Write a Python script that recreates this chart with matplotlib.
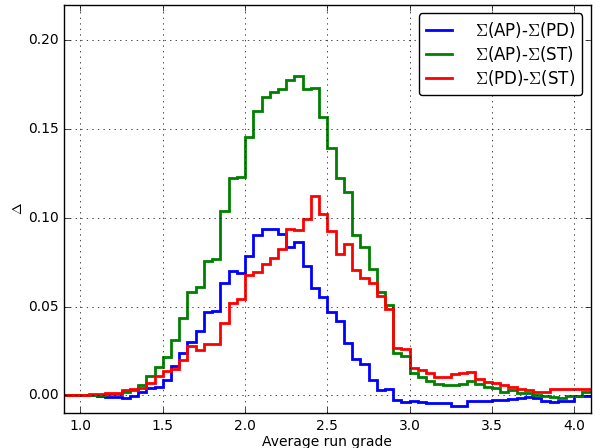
import numpy as np
import matplotlib
matplotlib.use('Agg')
import matplotlib.pyplot as plt

plt.style.use('classic')

# bin edges: 0.90 .. 4.10 in steps of 0.05
bin_edges = np.round(np.arange(0.90, 4.1001, 0.05), 2)

ap_pd = [0.0, 0.0, 0.0, 0.0, -0.0003, -0.0007, -0.0008, -0.0016, -0.0005, 0.0020,
         0.0042, 0.0047, 0.0085, 0.0165, 0.0240, 0.0303, 0.0361, 0.0470, 0.0475, 0.0631,
         0.0701, 0.0688, 0.0783, 0.0904, 0.0940, 0.0936, 0.0908, 0.0838, 0.0866, 0.0729,
         0.0607, 0.0552, 0.0472, 0.0420, 0.0297, 0.0203, 0.0175, 0.0085, 0.0030, 0.0034,
         -0.0026, -0.0036, -0.0032, -0.0036, -0.0045, -0.0042, -0.0043, -0.0058, -0.0058, -0.0032,
         -0.0030, -0.0030, -0.0026, -0.0024, -0.0019, -0.0015, -0.0011, -0.0015, -0.0032, -0.0039,
         -0.0034, -0.0034, -0.0004, -0.0004]

ap_st = [0.0, 0.0001, 0.0002, 0.0002, 0.0003, 0.0006, 0.0010, 0.0020, 0.0030, 0.0060,
         0.0107, 0.0160, 0.0216, 0.0310, 0.0438, 0.0582, 0.0613, 0.0757, 0.0767, 0.1039,
         0.1227, 0.1233, 0.1458, 0.1600, 0.1682, 0.1712, 0.1729, 0.1777, 0.1800, 0.1725,
         0.1730, 0.1570, 0.1396, 0.1222, 0.1146, 0.0906, 0.0838, 0.0714, 0.0584, 0.0511,
         0.0240, 0.0222, 0.0125, 0.0101, 0.0079, 0.0064, 0.0060, 0.0058, 0.0066, 0.0081,
         0.0066, 0.0047, 0.0044, 0.0019, 0.0029, 0.0015, 0.0011, 0.0002, -0.0004, -0.0009,
         -0.0013, -0.0004, -0.0004, 0.0019]

pd_st = [0.0002, 0.0003, 0.0004, 0.0005, 0.0007, 0.0012, 0.0015, 0.0030, 0.0035, 0.0041,
         0.0071, 0.0109, 0.0137, 0.0147, 0.0197, 0.0278, 0.0254, 0.0291, 0.0291, 0.0410,
         0.0522, 0.0543, 0.0677, 0.0697, 0.0742, 0.0771, 0.0823, 0.0936, 0.0932, 0.0996,
         0.1124, 0.1024, 0.0926, 0.0799, 0.0851, 0.0705, 0.0663, 0.0631, 0.0560, 0.0485,
         0.0265, 0.0259, 0.0152, 0.0140, 0.0128, 0.0104, 0.0105, 0.0118, 0.0124, 0.0132,
         0.0094, 0.0077, 0.0071, 0.0058, 0.0045, 0.0034, 0.0028, 0.0021, 0.0020, 0.0034,
         0.0033, 0.0033, 0.0034, 0.0034]

labels = [r'$\Sigma$(AP)-$\Sigma$(PD)', r'$\Sigma$(AP)-$\Sigma$(ST)', r'$\Sigma$(PD)-$\Sigma$(ST)']
colors = ['b', 'g', 'r']

fig = plt.figure(figsize=(6.04, 4.48), dpi=100, facecolor='white')
ax = fig.add_axes([0.106, 0.078, 0.872, 0.911])

for vals, lab, col in zip([ap_pd, ap_st, pd_st], labels, colors):
    ax.stairs(vals, bin_edges, color=col, lw=2, label=lab, baseline=None)

ax.set_xlim(0.9, 4.1)
ax.set_ylim(-0.01, 0.22)
ax.set_xticks([1.0, 1.5, 2.0, 2.5, 3.0, 3.5, 4.0])
ax.set_yticks([0.0, 0.05, 0.10, 0.15, 0.20])
ax.set_yticklabels(['0.00', '0.05', '0.10', '0.15', '0.20'])
ax.tick_params(labelsize=10)
ax.grid(True)
ax.set_xlabel('Average run grade', fontsize=10, labelpad=2)
ax.set_ylabel(r'$\Delta$', fontsize=10, labelpad=2)

leg = ax.legend(loc='upper right', fontsize=12, fancybox=True,
                handlelength=1.55, handletextpad=1.4, labelspacing=0.25)

fig.savefig('out.png', dpi=100, facecolor='white')
